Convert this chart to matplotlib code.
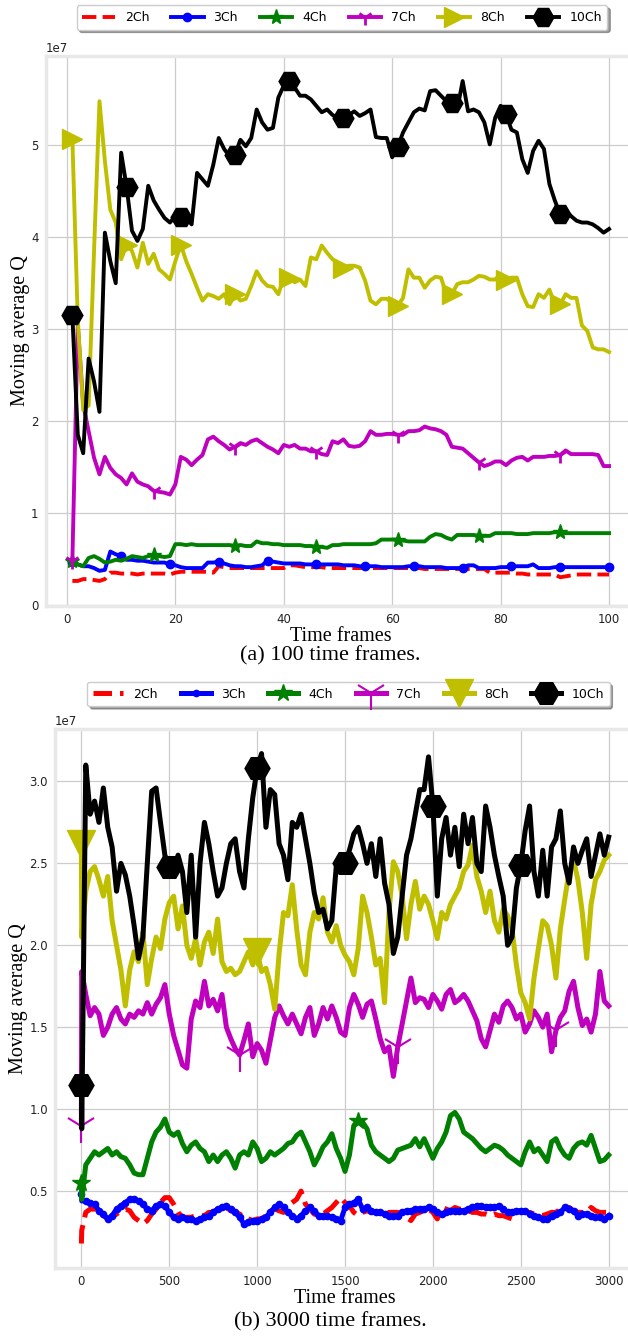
import numpy as np
import matplotlib
matplotlib.use("Agg")
import matplotlib.pyplot as plt

# ---------------- (a) 100 time frames  (values in 1e7) ----------------
frames_a = np.arange(1, 101)

q2_a = [0.26, 0.26, 0.28, 0.28, 0.27, 0.26, 0.28, 0.35, 0.35, 0.34,
        0.34, 0.34, 0.33, 0.34, 0.34, 0.34, 0.34, 0.34, 0.33, 0.35,
        0.36, 0.36, 0.36, 0.36, 0.36, 0.36, 0.35, 0.42, 0.41, 0.40,
        0.40, 0.40, 0.40, 0.40, 0.40, 0.40, 0.40, 0.40, 0.40, 0.40,
        0.43, 0.43, 0.42, 0.41, 0.41, 0.41, 0.41, 0.40, 0.40, 0.40,
        0.40, 0.40, 0.40, 0.40, 0.40, 0.40, 0.40, 0.40, 0.40, 0.40,
        0.40, 0.40, 0.40, 0.40, 0.40, 0.39, 0.39, 0.39, 0.39, 0.39,
        0.39, 0.39, 0.39, 0.39, 0.39, 0.39, 0.39, 0.35, 0.35, 0.35,
        0.35, 0.35, 0.34, 0.34, 0.33, 0.33, 0.33, 0.33, 0.33, 0.33,
        0.30, 0.31, 0.32, 0.33, 0.33, 0.33, 0.33, 0.33, 0.33, 0.33]

q3_a = [0.47, 0.44, 0.42, 0.42, 0.40, 0.37, 0.38, 0.58, 0.55, 0.53,
        0.49, 0.49, 0.48, 0.48, 0.47, 0.46, 0.46, 0.46, 0.44, 0.43,
        0.41, 0.40, 0.40, 0.40, 0.40, 0.46, 0.46, 0.47, 0.45, 0.43,
        0.42, 0.42, 0.41, 0.41, 0.42, 0.43, 0.48, 0.47, 0.46, 0.45,
        0.45, 0.45, 0.45, 0.44, 0.44, 0.44, 0.44, 0.44, 0.44, 0.44,
        0.43, 0.43, 0.43, 0.42, 0.42, 0.42, 0.42, 0.41, 0.41, 0.41,
        0.41, 0.41, 0.42, 0.42, 0.42, 0.41, 0.41, 0.41, 0.41, 0.40,
        0.40, 0.40, 0.40, 0.43, 0.43, 0.40, 0.40, 0.40, 0.40, 0.41,
        0.41, 0.42, 0.42, 0.42, 0.42, 0.44, 0.40, 0.40, 0.40, 0.41,
        0.41, 0.41, 0.41, 0.41, 0.41, 0.41, 0.41, 0.41, 0.41, 0.41]

q4_a = [0.48, 0.44, 0.42, 0.51, 0.53, 0.50, 0.46, 0.47, 0.49, 0.48,
        0.50, 0.53, 0.52, 0.51, 0.53, 0.54, 0.53, 0.52, 0.53, 0.66,
        0.66, 0.65, 0.66, 0.65, 0.65, 0.65, 0.65, 0.65, 0.65, 0.65,
        0.64, 0.65, 0.64, 0.64, 0.69, 0.67, 0.67, 0.66, 0.66, 0.65,
        0.65, 0.65, 0.65, 0.64, 0.64, 0.63, 0.63, 0.62, 0.65, 0.65,
        0.66, 0.66, 0.66, 0.66, 0.66, 0.66, 0.67, 0.71, 0.71, 0.71,
        0.71, 0.70, 0.69, 0.69, 0.69, 0.69, 0.74, 0.77, 0.76, 0.73,
        0.71, 0.76, 0.76, 0.76, 0.76, 0.75, 0.75, 0.75, 0.78, 0.78,
        0.78, 0.78, 0.77, 0.77, 0.77, 0.78, 0.78, 0.78, 0.78, 0.79,
        0.79, 0.78, 0.78, 0.78, 0.78, 0.78, 0.78, 0.78, 0.78, 0.78]

q7_a = [0.48, 3.05, 2.18, 1.89, 1.60, 1.42, 1.61, 1.49, 1.42, 1.38,
        1.31, 1.43, 1.34, 1.31, 1.29, 1.24, 1.23, 1.22, 1.20, 1.31,
        1.61, 1.58, 1.52, 1.58, 1.63, 1.80, 1.83, 1.78, 1.74, 1.69,
        1.72, 1.76, 1.74, 1.78, 1.80, 1.76, 1.72, 1.69, 1.65, 1.74,
        1.72, 1.74, 1.70, 1.70, 1.67, 1.67, 1.64, 1.63, 1.78, 1.76,
        1.80, 1.73, 1.72, 1.73, 1.78, 1.89, 1.85, 1.85, 1.86, 1.86,
        1.85, 1.85, 1.89, 1.89, 1.90, 1.94, 1.92, 1.91, 1.89, 1.85,
        1.72, 1.71, 1.70, 1.65, 1.60, 1.55, 1.51, 1.53, 1.56, 1.56,
        1.52, 1.57, 1.60, 1.61, 1.57, 1.61, 1.61, 1.61, 1.62, 1.62,
        1.63, 1.68, 1.64, 1.64, 1.64, 1.64, 1.64, 1.63, 1.51, 1.51]

q8_a = [5.07, 3.10, 2.12, 2.17, 3.85, 5.48, 4.83, 4.30, 4.16, 3.76,
        3.92, 3.85, 3.67, 3.94, 3.71, 3.82, 3.65, 3.60, 3.54, 3.74,
        3.92, 3.74, 3.60, 3.45, 3.31, 3.38, 3.36, 3.33, 3.38, 3.27,
        3.38, 3.31, 3.33, 3.47, 3.63, 3.53, 3.47, 3.46, 3.38, 3.56,
        3.56, 3.51, 3.54, 3.47, 3.78, 3.76, 3.91, 3.83, 3.76, 3.72,
        3.67, 3.69, 3.69, 3.67, 3.53, 3.31, 3.27, 3.33, 3.33, 3.29,
        3.25, 3.34, 3.65, 3.56, 3.56, 3.45, 3.53, 3.57, 3.56, 3.38,
        3.38, 3.49, 3.51, 3.51, 3.54, 3.58, 3.57, 3.54, 3.54, 3.60,
        3.54, 3.56, 3.56, 3.38, 3.25, 3.24, 3.38, 3.34, 3.43, 3.27,
        3.27, 3.38, 3.34, 3.34, 3.04, 2.98, 2.80, 2.78, 2.78, 2.75]

q10_a = [3.15, 1.85, 1.65, 2.68, 2.43, 2.10, 4.05, 3.74, 3.50, 4.92,
         4.55, 4.07, 3.96, 4.09, 4.56, 4.40, 4.30, 4.21, 4.16, 4.23,
         4.22, 4.21, 4.14, 4.70, 4.63, 4.56, 4.79, 5.08, 4.96, 4.88,
         4.90, 5.06, 4.99, 5.08, 5.39, 5.25, 5.17, 5.19, 5.52, 5.65,
         5.70, 5.63, 5.54, 5.54, 5.50, 5.43, 5.36, 5.39, 5.33, 5.30,
         5.30, 5.33, 5.37, 5.32, 5.35, 5.39, 5.09, 5.08, 5.08, 4.87,
         4.98, 5.14, 5.25, 5.36, 5.40, 5.38, 5.59, 5.60, 5.54, 5.48,
         5.46, 5.39, 5.70, 5.37, 5.39, 5.36, 5.25, 5.01, 5.30, 5.43,
         5.34, 5.17, 5.14, 4.85, 4.70, 4.94, 5.05, 4.96, 4.58, 4.40,
         4.25, 4.29, 4.23, 4.18, 4.16, 4.16, 4.14, 4.10, 4.05, 4.09]

# ---------------- (b) 3000 time frames  (values in 1e7) ----------------
frames_b = np.array([0, 2] + list(range(25, 3001, 25)))

q2_b = [0.18, 0.26,
        0.37, 0.39, 0.39, 0.39, 0.35, 0.33, 0.34, 0.36, 0.38, 0.39,
        0.38, 0.34, 0.32, 0.30, 0.32, 0.36, 0.39, 0.43, 0.46, 0.46,
        0.42, 0.37, 0.34, 0.34, 0.34, 0.35, 0.35, 0.35, 0.37, 0.37,
        0.39, 0.41, 0.40, 0.38, 0.37, 0.36, 0.34, 0.33, 0.32, 0.33,
        0.33, 0.35, 0.38, 0.39, 0.38, 0.37, 0.41, 0.43, 0.45, 0.50,
        0.42, 0.39, 0.36, 0.35, 0.36, 0.38, 0.40, 0.43, 0.46, 0.43,
        0.41, 0.37, 0.35, 0.37, 0.38, 0.37, 0.37, 0.36, 0.34, 0.37,
        0.37, 0.37, 0.36, 0.34, 0.32, 0.36, 0.37, 0.38, 0.39, 0.37,
        0.33, 0.40, 0.39, 0.38, 0.40, 0.39, 0.39, 0.38, 0.37, 0.37,
        0.36, 0.36, 0.35, 0.36, 0.35, 0.35, 0.34, 0.33, 0.37, 0.38,
        0.37, 0.37, 0.36, 0.36, 0.35, 0.36, 0.37, 0.37, 0.39, 0.40,
        0.40, 0.38, 0.37, 0.37, 0.37, 0.40, 0.38, 0.37, 0.37, 0.37]

q3_b = [0.48, 0.44,
        0.44, 0.43, 0.42, 0.38, 0.36, 0.33, 0.35, 0.39, 0.41, 0.43,
        0.45, 0.45, 0.44, 0.42, 0.39, 0.38, 0.41, 0.42, 0.41, 0.37,
        0.34, 0.33, 0.34, 0.33, 0.33, 0.32, 0.33, 0.34, 0.35, 0.37,
        0.39, 0.40, 0.41, 0.39, 0.37, 0.34, 0.30, 0.31, 0.32, 0.32,
        0.33, 0.34, 0.37, 0.40, 0.42, 0.40, 0.37, 0.35, 0.33, 0.35,
        0.38, 0.40, 0.38, 0.35, 0.35, 0.35, 0.34, 0.33, 0.32, 0.40,
        0.42, 0.43, 0.45, 0.39, 0.40, 0.38, 0.37, 0.37, 0.36, 0.35,
        0.35, 0.35, 0.37, 0.38, 0.38, 0.39, 0.39, 0.39, 0.40, 0.39,
        0.37, 0.36, 0.37, 0.38, 0.38, 0.38, 0.38, 0.39, 0.40, 0.41,
        0.41, 0.40, 0.40, 0.40, 0.41, 0.39, 0.37, 0.37, 0.38, 0.38,
        0.38, 0.36, 0.35, 0.34, 0.33, 0.33, 0.35, 0.36, 0.37, 0.40,
        0.39, 0.38, 0.35, 0.36, 0.36, 0.35, 0.34, 0.34, 0.33, 0.35]

q4_b = [0.55, 0.45,
        0.66, 0.70, 0.74, 0.72, 0.74, 0.76, 0.72, 0.74, 0.71, 0.70,
        0.66, 0.61, 0.60, 0.60, 0.70, 0.80, 0.86, 0.89, 0.94, 0.86,
        0.84, 0.86, 0.79, 0.74, 0.78, 0.80, 0.76, 0.74, 0.68, 0.72,
        0.68, 0.72, 0.74, 0.70, 0.64, 0.72, 0.74, 0.72, 0.80, 0.76,
        0.68, 0.70, 0.74, 0.72, 0.74, 0.76, 0.79, 0.80, 0.84, 0.86,
        0.80, 0.74, 0.66, 0.71, 0.77, 0.80, 0.85, 0.76, 0.70, 0.62,
        0.72, 0.90, 0.93, 0.92, 0.88, 0.78, 0.74, 0.72, 0.70, 0.68,
        0.70, 0.75, 0.76, 0.77, 0.78, 0.82, 0.77, 0.82, 0.76, 0.70,
        0.76, 0.80, 0.86, 0.96, 0.98, 0.94, 0.86, 0.84, 0.82, 0.79,
        0.76, 0.74, 0.76, 0.78, 0.77, 0.75, 0.72, 0.70, 0.68, 0.66,
        0.74, 0.80, 0.74, 0.76, 0.72, 0.68, 0.80, 0.82, 0.76, 0.72,
        0.70, 0.76, 0.79, 0.80, 0.78, 0.84, 0.76, 0.68, 0.69, 0.72]

q7_b = [0.90, 1.84,
        1.70, 1.57, 1.62, 1.58, 1.45, 1.50, 1.58, 1.62, 1.55, 1.52,
        1.58, 1.56, 1.60, 1.58, 1.65, 1.58, 1.64, 1.68, 1.76, 1.58,
        1.45, 1.36, 1.27, 1.25, 1.55, 1.66, 1.62, 1.78, 1.63, 1.67,
        1.60, 1.70, 1.50, 1.43, 1.37, 1.33, 1.42, 1.52, 1.32, 1.40,
        1.36, 1.28, 1.42, 1.56, 1.63, 1.57, 1.52, 1.58, 1.52, 1.46,
        1.56, 1.62, 1.45, 1.52, 1.62, 1.55, 1.63, 1.56, 1.47, 1.45,
        1.62, 1.70, 1.64, 1.56, 1.64, 1.66, 1.55, 1.43, 1.35, 1.38,
        1.20, 1.38, 1.52, 1.66, 1.80, 1.65, 1.68, 1.67, 1.62, 1.70,
        1.66, 1.61, 1.70, 1.73, 1.65, 1.67, 1.70, 1.66, 1.60, 1.54,
        1.43, 1.38, 1.48, 1.58, 1.53, 1.63, 1.66, 1.62, 1.55, 1.58,
        1.47, 1.52, 1.60, 1.56, 1.50, 1.58, 1.35, 1.48, 1.56, 1.60,
        1.72, 1.78, 1.62, 1.51, 1.55, 1.47, 1.58, 1.84, 1.66, 1.63]

q8_b = [2.62, 2.05,
        2.33, 2.45, 2.48, 2.40, 2.30, 2.42, 2.15, 2.00, 1.85, 1.63,
        1.85, 1.96, 1.90, 2.08, 1.76, 1.92, 2.05, 1.98, 2.16, 2.26,
        2.30, 2.10, 2.24, 2.00, 1.92, 2.04, 1.88, 2.02, 2.08, 1.95,
        2.16, 1.90, 1.84, 1.86, 1.82, 1.84, 1.90, 1.96, 1.88, 1.96,
        1.84, 1.86, 1.76, 1.61, 1.95, 2.20, 2.18, 2.37, 2.10, 1.88,
        1.82, 2.08, 2.20, 2.16, 2.29, 2.08, 2.02, 2.12, 2.00, 1.94,
        1.90, 1.82, 1.98, 2.30, 2.20, 2.05, 1.88, 1.92, 1.65, 2.20,
        2.51, 2.45, 2.30, 2.04, 2.25, 2.39, 2.22, 2.30, 2.25, 2.15,
        2.04, 2.20, 2.16, 2.25, 2.30, 2.35, 2.45, 2.49, 2.61, 2.42,
        2.33, 2.20, 2.33, 2.15, 2.08, 2.22, 2.18, 2.10, 1.88, 1.71,
        1.65, 1.55, 1.80, 1.98, 2.15, 2.12, 2.00, 1.80, 2.10, 2.28,
        2.45, 2.52, 2.40, 2.20, 1.92, 2.25, 2.40, 2.45, 2.52, 2.55]

q10_b = [1.15, 0.88,
         3.10, 2.80, 2.88, 2.75, 2.96, 2.72, 2.60, 2.33, 2.50, 2.43,
         2.30, 2.12, 1.92, 2.05, 2.50, 2.94, 2.96, 2.75, 2.55, 2.48,
         2.45, 2.55, 2.45, 2.20, 2.55, 2.05, 2.50, 2.75, 2.62, 2.45,
         2.30, 2.35, 2.50, 2.62, 2.65, 2.45, 2.35, 2.65, 2.90, 3.08,
         3.17, 2.72, 2.95, 2.92, 2.62, 2.55, 2.40, 2.75, 2.72, 2.80,
         2.65, 2.50, 2.32, 2.20, 2.22, 2.10, 2.15, 2.48, 2.55, 2.50,
         2.58, 2.68, 2.72, 2.62, 2.50, 2.62, 2.42, 2.65, 2.38, 2.25,
         1.95, 2.05, 2.30, 2.55, 2.65, 2.80, 2.95, 2.95, 3.15, 2.85,
         2.30, 2.65, 2.78, 2.55, 2.72, 2.48, 2.80, 2.62, 2.78, 2.50,
         2.45, 2.85, 2.72, 2.55, 2.42, 2.30, 2.00, 2.05, 2.35, 2.49,
         2.70, 2.85, 2.45, 2.30, 2.58, 2.30, 2.60, 2.65, 2.82, 2.50,
         2.38, 2.60, 2.50, 2.58, 2.65, 2.42, 2.55, 2.68, 2.55, 2.66]

labels = ["2Ch", "3Ch", "4Ch", "7Ch", "8Ch", "10Ch"]
colors = ["r", "b", "g", "m", "y", "k"]

series_a = [q2_a, q3_a, q4_a, q7_a, q8_a, q10_a]
series_b = [q2_b, q3_b, q4_b, q7_b, q8_b, q10_b]

# marker style / size / markevery for each panel
markers_a = [None, "o", "*", "1", ">", "H"]
msize_a = [0, 6, 11, 11, 15, 15]
every_a = [None, 9, 15, 15, 10, 10]

markers_b = [None, "o", "*", "1", "v", "H"]
msize_b = [0, 4.5, 13, 24, 20, 18]
step_b = [None, 25, 1575, 900, 1000, 500]   # marker spacing in frames
last_b = [None, 3000, 3000, 2999, 1999, 2999]  # last frame carrying a marker


def style_axes(ax):
    ax.set_facecolor("white")
    ax.grid(True, color="#cccccc", lw=0.9)
    ax.set_axisbelow(True)
    for s in ax.spines.values():
        s.set_color("#e8e8e8")
        s.set_linewidth(2.5)
    ax.tick_params(length=0, labelsize=8.5, labelcolor="#222222", pad=5)
    ax.yaxis.get_offset_text().set_fontsize(8.5)
    ax.set_xlabel("Time frames", family=["Liberation Serif"], fontsize=14.5,
                  labelpad=1)
    ax.set_ylabel("Moving average Q", family=["Liberation Serif"],
                  fontsize=14.5, labelpad=1)


fig = plt.figure(figsize=(6.28, 13.37), dpi=100)

# ---- panel (a)
ax1 = fig.add_axes([0.0725, 0.5468, 0.940, 0.4113])
for vals, lab, c, m, ms, ev in zip(series_a, labels, colors, markers_a,
                                   msize_a, every_a):
    y = np.array(vals) * 1e7
    if m is None:
        ax1.plot(frames_a, y, "--", color=c, lw=2.8, label=lab)
    else:
        ax1.plot(frames_a, y, color=c, lw=2.8, marker=m, ms=ms,
                 markevery=ev, mew=2 if m == "1" else 1, label=lab)
style_axes(ax1)
ax1.legend(loc="center", bbox_to_anchor=(0.5446, 0.9869),
           bbox_transform=fig.transFigure, ncol=6, fontsize=9,
           fancybox=True, shadow=True, framealpha=1, edgecolor="#cccccc",
           handlelength=2.6, columnspacing=1.75, borderpad=0.45)
fig.text(0.526, 1 - 656 / 1337, "(a) 100 time frames.",
         family=["Liberation Serif"], fontsize=16, ha="center", va="center")

# ---- panel (b)
ax2 = fig.add_axes([0.0876, 0.0516, 0.9236, 0.4031])
for vals, lab, c, m, ms, st, lf in zip(series_b, labels, colors, markers_b,
                                       msize_b, step_b, last_b):
    y = np.array(vals) * 1e7
    if m is None:
        ax2.plot(frames_b, y, "--", color=c, lw=3.6, label=lab)
    else:
        idx = [i for i, f in enumerate(frames_b) if f % st == 0 and f <= lf]
        ax2.plot(frames_b, y, color=c, lw=3.6, marker=m, ms=ms,
                 markevery=idx, mew=1.5 if m == "1" else 1, label=lab)
style_axes(ax2)
ax2.legend(loc="center", bbox_to_anchor=(0.555, 0.4809),
           bbox_transform=fig.transFigure, ncol=6, fontsize=9,
           fancybox=True, shadow=True, framealpha=1, edgecolor="#cccccc",
           handlelength=2.4, columnspacing=1.85, borderpad=0.45)
fig.text(0.526, 1 - 1322 / 1337, "(b) 3000 time frames.",
         family=["Liberation Serif"], fontsize=16, ha="center", va="center")

fig.savefig("out.png", dpi=100)
